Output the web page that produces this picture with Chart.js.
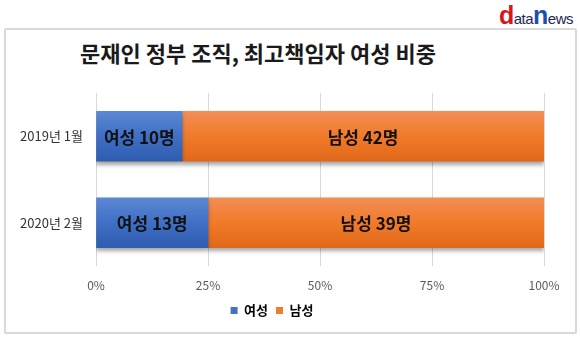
<!DOCTYPE html>
<html>
<head>
<meta charset="utf-8">
<script src="https://cdn.jsdelivr.net/npm/chart.js@4"></script>
<style>
  html, body { margin: 0; padding: 0; background: #fff; }
  body { width: 580px; height: 338px; position: relative; overflow: hidden; font-family: "Noto Sans CJK KR", "Noto Sans", sans-serif; }
  .frame { position: absolute; left: 4px; top: 28px; width: 569px; height: 302px; border: 2px solid #d9d9d9; border-radius: 2px; }
  .logo { position: absolute; right: 7px; top: 1px; font-family: "Liberation Sans", Arial, sans-serif; letter-spacing: -0.5px; white-space: nowrap; }
  .logo .big { font-size: 25px; font-weight: bold; }
  .logo .small { font-size: 15px; color: #1c2754; }
  .title { position: absolute; left: 80px; top: 36px; white-space: nowrap; font-size: 22px; font-weight: bold; color: #1a1a1a; }
  canvas { position: absolute; left: 0; top: 0; }
</style>
</head>
<body>
<div class="frame"></div>
<div class="logo"><span class="big" style="color:#d9141c">d</span><span class="small">ata</span><span class="big" style="color:#1d4fb0">n</span><span class="small">ews</span></div>
<div class="title">문재인 정부 조직, 최고책임자 여성 비중</div>
<canvas id="chart" width="580" height="338"></canvas>
<script>
const categories = ['2019년 1월', '2020년 2월'];
const seriesNames = ['여성', '남성'];
const femaleCounts = [10, 13];
const maleCounts = [42, 39];
const tickLabels = ['0%', '25%', '50%', '75%', '100%'];

// 100% 누적 막대: 각 해의 인원 합계 대비 비율
const totals = femaleCounts.map((f, i) => f + maleCounts[i]);
const femaleShare = femaleCounts.map((f, i) => f / totals[i] * 100);
const maleShare = maleCounts.map((m, i) => m / totals[i] * 100);

const BAR = 50;

function barGradient(top, mid, bottom) {
    return (context) => {
        const chart = context.chart;
        if (!chart.chartArea || context.dataIndex === undefined) return mid;
        const yc = chart.scales.y.getPixelForValue(context.dataIndex);
        const g = chart.ctx.createLinearGradient(0, yc - BAR / 2, 0, yc + BAR / 2);
        g.addColorStop(0, top);
        g.addColorStop(0.5, mid);
        g.addColorStop(1, bottom);
        return g;
    };
}

// 막대 그림자
const shadowPlugin = {
    id: 'barShadow',
    beforeDatasetsDraw(chart) {
        const ctx = chart.ctx;
        ctx.save();
        ctx.shadowColor = 'rgba(0,0,0,0.35)';
        ctx.shadowBlur = 4;
        ctx.shadowOffsetY = 3;
    },
    afterDatasetsDraw(chart) {
        chart.ctx.restore();
    }
};

// 막대 안 라벨
const labelPlugin = {
    id: 'barLabels',
    afterDatasetsDraw(chart) {
        const ctx = chart.ctx;
        const counts = [femaleCounts, maleCounts];
        ctx.save();
        ctx.font = 'bold 17px "Noto Sans CJK KR"';
        ctx.fillStyle = '#111';
        ctx.textAlign = 'center';
        ctx.textBaseline = 'middle';
        chart.data.datasets.forEach((ds, di) => {
            chart.getDatasetMeta(di).data.forEach((bar, i) => {
                const cx = (bar.x + bar.base) / 2;
                ctx.fillText(seriesNames[di] + ' ' + counts[di][i] + '명', cx, bar.y + 1);
            });
        });
        ctx.restore();
    }
};

new Chart(document.getElementById('chart'), {
    type: 'bar',
    data: {
        labels: categories,
        datasets: [
            {
                label: seriesNames[0],
                data: femaleShare,
                backgroundColor: barGradient('#5c87d2', '#3f6fc6', '#2e5cae'),
                borderWidth: 0,
                barThickness: BAR
            },
            {
                label: seriesNames[1],
                data: maleShare,
                backgroundColor: barGradient('#f28e55', '#f07a2a', '#e0681a'),
                borderWidth: 0,
                barThickness: BAR
            }
        ]
    },
    options: {
        indexAxis: 'y',
        responsive: false,
        animation: false,
        layout: { padding: { left: 0, right: 36, top: 93, bottom: 11 } },
        plugins: {
            tooltip: { enabled: false },
            legend: {
                position: 'bottom',
                labels: {
                    boxWidth: 7,
                    boxHeight: 7,
                    padding: 8,
                    color: '#222',
                    font: { family: '"Noto Sans CJK KR"', size: 13, weight: 'bold' },
                    generateLabels(chart) {
                        const cols = ['#4472c4', '#ed7d31'];
                        return seriesNames.map((n, i) => ({
                            text: n, fillStyle: cols[i], strokeStyle: cols[i], lineWidth: 0, datasetIndex: i
                        }));
                    }
                }
            }
        },
        scales: {
            x: {
                stacked: true,
                min: 0,
                max: 100,
                border: { display: false },
                grid: { color: '#d9d9d9', drawTicks: false },
                afterFit(scale) { scale.height = 30; },
                ticks: {
                    stepSize: 25,
                    padding: 12,
                    color: '#595959',
                    font: { family: '"Noto Sans CJK KR"', size: 12 },
                    callback: (v, i) => tickLabels[i]
                }
            },
            y: {
                stacked: true,
                border: { display: false },
                grid: { display: false },
                afterFit(scale) { scale.width = 96; },
                ticks: {
                    padding: 5,
                    color: '#333',
                    font: { family: '"Noto Sans CJK KR"', size: 13 }
                }
            }
        }
    },
    plugins: [shadowPlugin, labelPlugin]
});
</script>
</body>
</html>
